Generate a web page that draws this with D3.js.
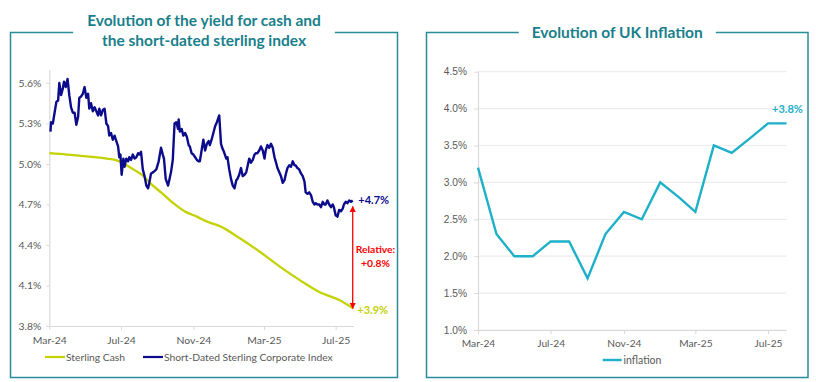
<!DOCTYPE html>
<meta charset="utf-8">
<script src="https://d3js.org/d3.v7.min.js"></script>
<style>
  body { margin: 0; background: #fff; font-family: Lato, "Open Sans", sans-serif; }
  svg { display: block; }
</style>
<div id="chart"></div>
<script>
// ---- data ----
var indexDates = ["2024-03-03","2024-03-04","2024-03-07","2024-03-10","2024-03-13","2024-03-16","2024-03-18","2024-03-21","2024-03-24","2024-03-26","2024-03-29",
  "2024-04-01","2024-04-04","2024-04-07","2024-04-10","2024-04-13","2024-04-16","2024-04-19","2024-04-21","2024-04-24","2024-04-27","2024-04-30",
  "2024-05-03","2024-05-06","2024-05-08","2024-05-11","2024-05-14","2024-05-17","2024-05-20","2024-05-23","2024-05-25","2024-05-28","2024-05-31",
  "2024-06-03","2024-06-06","2024-06-09","2024-06-11","2024-06-14","2024-06-17","2024-06-20","2024-06-23","2024-06-26","2024-06-28","2024-06-30",
  "2024-07-02","2024-07-05","2024-07-07","2024-07-10","2024-07-13","2024-07-15","2024-07-18","2024-07-21","2024-07-24","2024-07-27","2024-07-30",
  "2024-08-01","2024-08-04","2024-08-07","2024-08-10","2024-08-13","2024-08-16","2024-08-18","2024-08-21","2024-08-25","2024-08-30",
  "2024-09-03","2024-09-07","2024-09-10","2024-09-12","2024-09-15","2024-09-19","2024-09-21","2024-09-24","2024-09-27","2024-09-30",
  "2024-10-03","2024-10-06","2024-10-07","2024-10-09","2024-10-12","2024-10-15","2024-10-18","2024-10-21","2024-10-24","2024-10-26","2024-10-29",
  "2024-11-01","2024-11-04","2024-11-07","2024-11-10","2024-11-12","2024-11-15","2024-11-18","2024-11-21","2024-11-24","2024-11-27","2024-11-29",
  "2024-12-02","2024-12-05","2024-12-08","2024-12-11","2024-12-15","2024-12-18","2024-12-20","2024-12-23","2024-12-27","2024-12-29",
  "2025-01-01","2025-01-04","2025-01-07","2025-01-10","2025-01-13","2025-01-15","2025-01-18","2025-01-21","2025-01-24","2025-01-27","2025-01-30",
  "2025-02-01","2025-02-04","2025-02-07","2025-02-10","2025-02-13","2025-02-15","2025-02-18","2025-02-21","2025-02-24","2025-02-27",
  "2025-03-02","2025-03-04","2025-03-07","2025-03-10","2025-03-13","2025-03-16","2025-03-19","2025-03-21","2025-03-24","2025-03-27","2025-03-30",
  "2025-04-02","2025-04-05","2025-04-07","2025-04-10","2025-04-13","2025-04-16","2025-04-19","2025-04-22","2025-04-24","2025-04-27","2025-04-30",
  "2025-05-03","2025-05-06","2025-05-09","2025-05-11","2025-05-14","2025-05-17","2025-05-20","2025-05-23","2025-05-26","2025-05-28","2025-05-31",
  "2025-06-03","2025-06-06","2025-06-09","2025-06-12","2025-06-14","2025-06-17","2025-06-20","2025-06-23","2025-06-26","2025-06-28",
  "2025-07-01","2025-07-04","2025-07-07","2025-07-10","2025-07-13","2025-07-15","2025-07-18","2025-07-21","2025-07-24","2025-07-27","2025-07-30"];
var indexValues = [5.24,5.31,5.30,5.38,5.46,5.47,5.60,5.51,5.56,5.61,5.57,
  5.63,5.51,5.42,5.38,5.38,5.29,5.35,5.49,5.50,5.52,5.57,
  5.49,5.52,5.41,5.45,5.39,5.42,5.39,5.36,5.41,5.36,5.40,
  5.41,5.30,5.28,5.21,5.23,5.18,5.21,5.17,5.13,5.05,5.07,
  4.92,5.04,4.98,5.04,5.02,5.05,5.03,5.07,5.04,5.05,5.08,
  5.07,5.09,4.96,4.91,4.84,4.82,4.86,4.93,4.94,4.96,
  5.02,5.12,5.07,5.04,4.89,4.84,4.88,4.94,5.03,5.30,
  5.31,5.26,5.33,5.24,5.26,5.21,5.23,5.20,5.14,5.13,5.08,
  5.07,5.05,5.03,5.02,5.02,5.10,5.18,5.10,5.15,5.17,5.14,
  5.18,5.23,5.28,5.31,5.36,5.15,5.12,5.09,5.04,5.05,
  4.96,4.89,4.84,4.82,4.88,4.89,4.92,4.97,4.91,4.92,4.94,
  4.98,5.04,5.01,5.03,5.07,5.08,5.08,5.10,5.13,5.10,
  5.04,5.10,5.14,5.12,5.15,5.12,5.05,5.02,4.97,4.94,4.91,
  4.86,4.88,4.92,4.97,4.99,4.98,5.02,4.99,4.99,4.97,4.96,
  4.93,4.91,4.87,4.79,4.78,4.79,4.77,4.72,4.70,4.71,4.70,
  4.70,4.68,4.72,4.70,4.70,4.73,4.70,4.68,4.70,4.68,
  4.62,4.61,4.66,4.65,4.67,4.70,4.72,4.71,4.73,4.72,4.73];

var cashDates = ["2024-03-01","2024-03-31","2024-04-23","2024-06-07","2024-06-21","2024-07-07","2024-07-22","2024-08-08","2024-08-19",
  "2024-09-07","2024-09-28","2024-10-17","2024-11-07","2024-11-26","2024-12-16","2025-01-19","2025-02-22","2025-03-28",
  "2025-05-01","2025-06-04","2025-07-08","2025-07-31"];
var cashValues = [5.08,5.07,5.06,5.04,5.03,5.00,4.96,4.91,4.86,4.79,4.71,4.65,4.61,4.57,4.54,4.45,4.35,4.24,4.14,4.05,3.99,3.93];

var inflationMonths = ["2024-03","2024-04","2024-05","2024-06","2024-07","2024-08","2024-09","2024-10","2024-11","2024-12",
  "2025-01","2025-02","2025-03","2025-04","2025-05","2025-06","2025-07","2025-08"];
var inflationValues = [3.2,2.3,2.0,2.0,2.2,2.2,1.7,2.3,2.6,2.5,3.0,2.8,2.6,3.5,3.4,3.6,3.8,3.8];

var yieldTicks = [3.8,4.1,4.4,4.7,5.0,5.3,5.6];
var inflationTicks = [1.0,1.5,2.0,2.5,3.0,3.5,4.0,4.5];
var monthTicks = ["2024-03-01","2024-07-01","2024-11-01","2025-03-01","2025-07-01"];

var leftTitle = ["Evolution of the yield for cash and", "the short-dated sterling index"];
var rightTitle = ["Evolution of UK Inflation"];
var legendLeft = ["Sterling Cash", "Short-Dated Sterling Corporate Index"];
var legendRight = ["inflation"];

// ---- colours ----
var frameColor = "#2a8d9b", titleColor = "#1a7f8b";
var cashColor = "#c3d200", indexColor = "#0b0b8c", inflColor = "#1db0c8";
var axisColor = "#d9d9d9", gridColor = "#ececec", labelColor = "#595959";

var parse = d3.timeParse("%Y-%m-%d");
var parseM = d3.timeParse("%Y-%m");
var fmtM = d3.timeFormat("%b-%y");

var svg = d3.select("#chart").append("svg")
  .attr("width", 816).attr("height", 382);

// red arrow marker
var defs = svg.append("defs");
["start","end"].forEach(function(k) {
  defs.append("marker").attr("id", "arr-" + k)
    .attr("viewBox", "0 0 10 10").attr("refX", 9).attr("refY", 5)
    .attr("markerWidth", 5).attr("markerHeight", 5)
    .attr("orient", k == "end" ? "auto" : "auto-start-reverse")
    .append("path").attr("d", "M0,0L10,5L0,10z").attr("fill", "#ff0000");
});

function framed(left, right, top, bottom, lines, size, baseline1, gap) {
  var cx = (left + right) / 2;
  var t = svg.append("g");
  lines.forEach(function(s, i) {
    t.append("text").attr("x", cx).attr("y", baseline1 + i * 20)
      .attr("text-anchor", "middle")
      .style("font-family", "Lato, sans-serif").style("font-weight", "bold")
      .style("font-size", size + "px").attr("fill", titleColor).text(s);
  });
  var bb = t.node().getBBox();
  var g0 = bb.x - gap, g1 = bb.x + bb.width + gap;
  svg.append("path")
    .attr("d", "M" + g0 + "," + top + "H" + left + "V" + bottom + "H" + right + "V" + top + "H" + g1)
    .attr("fill", "none").attr("stroke", frameColor).attr("stroke-width", 1.5);
}

// ================= LEFT CHART =================
framed(10.5, 397.5, 32.5, 377.5, leftTitle, 15.5, 25.5, 14);

var x1 = d3.scaleTime().domain([parse("2024-03-01"), parse("2025-07-31")]).range([49.3, 353.3]);
var y1 = d3.scaleLinear().domain([3.8, 5.7]).range([326, 69.5]);

var gl = svg.append("g");
var yAx = gl.append("g").attr("transform", "translate(49.3,0)")
  .call(d3.axisLeft(y1).tickValues(yieldTicks).tickSize(3).tickSizeOuter(0).tickPadding(5)
    .tickFormat(function(d) { return d.toFixed(1) + "%"; }));
var xAx = gl.append("g").attr("transform", "translate(0,326)")
  .call(d3.axisBottom(x1).tickValues(monthTicks.map(parse)).tickSize(4).tickSizeOuter(0).tickPadding(7)
    .tickFormat(fmtM));
[yAx, xAx].forEach(function(a) {
  a.select(".domain").attr("stroke", axisColor).attr("stroke-width", 1.2);
  a.selectAll(".tick line").attr("stroke", axisColor);
  a.selectAll(".tick text").attr("fill", labelColor)
    .style("font-family", "Lato, sans-serif").style("font-size", "10.4px");
});

var cashData = cashDates.map(function(d, i) { return [parse(d), cashValues[i]]; });
var indexData = indexDates.map(function(d, i) { return [parse(d), indexValues[i]]; });
var line1 = d3.line().x(function(d) { return x1(d[0]); }).y(function(d) { return y1(d[1]); });

gl.append("path").datum(cashData).attr("d", line1.curve(d3.curveMonotoneX))
  .attr("fill", "none").attr("stroke", cashColor).attr("stroke-width", 2.3);
gl.append("path").datum(indexData).attr("d", line1.curve(d3.curveLinear))
  .attr("fill", "none").attr("stroke", indexColor).attr("stroke-width", 2.4)
  .attr("stroke-linejoin", "round");

var lastIdx = indexData[indexData.length - 1], lastCash = cashData[cashData.length - 1];
var ax = x1(lastIdx[0]);
gl.append("line").attr("x1", ax).attr("x2", ax)
  .attr("y1", y1(lastIdx[1]) + 6).attr("y2", y1(lastCash[1]))
  .attr("stroke", "#ff0000").attr("stroke-width", 1.3)
  .attr("marker-start", "url(#arr-start)").attr("marker-end", "url(#arr-end)");

function endLabel(g, x, y, txt, col) {
  g.append("text").attr("x", x).attr("y", y).attr("dy", "0.35em")
    .style("font-family", "Lato, sans-serif").style("font-weight", "bold").style("font-size", "11px")
    .attr("fill", col).text(txt);
}
endLabel(gl, x1(lastCash[0]) + 5, y1(lastIdx[1]), "+" + lastIdx[1].toFixed(1) + "%", indexColor);
endLabel(gl, x1(lastCash[0]) + 4, y1(lastCash[1]) + 2, "+" + lastCash[1].toFixed(1) + "%", cashColor);

var rel = (lastIdx[1] - lastCash[1]);
var midY = (y1(lastIdx[1]) + y1(lastCash[1])) / 2;
gl.append("text").attr("x", 375.5).attr("y", midY - 1).attr("text-anchor", "middle")
  .style("font-family", "Lato, sans-serif").style("font-weight", "bold").style("font-size", "10.3px")
  .attr("fill", "#ff0000").text("Relative:");
gl.append("text").attr("x", 375.5).attr("y", midY + 13).attr("text-anchor", "middle")
  .style("font-family", "Lato, sans-serif").style("font-weight", "bold").style("font-size", "10.3px")
  .attr("fill", "#ff0000").text("+" + rel.toFixed(1) + "%");

// legend
var lg = gl.append("g").style("font-family", "Lato, sans-serif").style("font-size", "10.3px");
[[45, cashColor, legendLeft[0]], [143, indexColor, legendLeft[1]]].forEach(function(e) {
  lg.append("line").attr("x1", e[0]).attr("x2", e[0] + 20).attr("y1", 357).attr("y2", 357)
    .attr("stroke", e[1]).attr("stroke-width", 2.2);
  lg.append("text").attr("x", e[0] + 21).attr("y", 357).attr("dy", "0.35em")
    .attr("fill", labelColor).text(e[2]);
});

// ================= RIGHT CHART =================
framed(426.5, 808, 32.5, 377.5, rightTitle, 15.5, 38, 13);

var x2 = d3.scaleTime().domain([parseM("2024-03"), parseM("2025-08")]).range([478, 786.5]);
var y2 = d3.scaleLinear().domain([1.0, 4.5]).range([330, 71.7]);

var gr = svg.append("g");
gr.append("g").selectAll("line").data(inflationTicks).enter().append("line")
  .attr("x1", 478).attr("x2", 786.5)
  .attr("y1", function(d) { return y2(d); }).attr("y2", function(d) { return y2(d); })
  .attr("stroke", gridColor).attr("stroke-width", 1.2);

var yAx2 = gr.append("g").attr("transform", "translate(478,0)")
  .call(d3.axisLeft(y2).tickValues(inflationTicks).tickSize(4).tickSizeOuter(0).tickPadding(7)
    .tickFormat(function(d) { return d.toFixed(1) + "%"; }));
var xAx2 = gr.append("g").attr("transform", "translate(0,330)")
  .call(d3.axisBottom(x2).tickValues(monthTicks.map(parse)).tickSize(4).tickSizeOuter(0).tickPadding(6)
    .tickFormat(fmtM));
[yAx2, xAx2].forEach(function(a) {
  a.select(".domain").attr("stroke", axisColor).attr("stroke-width", 1.2);
  a.selectAll(".tick line").attr("stroke", axisColor);
  a.selectAll(".tick text").attr("fill", labelColor).style("font-size", "10.2px");
});
yAx2.selectAll(".tick text").style("font-family", "'Liberation Sans', Arial, sans-serif");
xAx2.selectAll(".tick text").style("font-family", "Lato, sans-serif");

var inflData = inflationMonths.map(function(m, i) { return [parseM(m), inflationValues[i]]; });
var line2 = d3.line().x(function(d) { return x2(d[0]); }).y(function(d) { return y2(d[1]); });
gr.append("path").datum(inflData).attr("d", line2)
  .attr("fill", "none").attr("stroke", inflColor).attr("stroke-width", 2.4);

var lastInf = inflData[inflData.length - 1];
gr.append("text").attr("x", x2(lastInf[0]) + 1).attr("y", y2(lastInf[1]) - 10)
  .attr("text-anchor", "middle")
  .style("font-family", "Lato, sans-serif").style("font-weight", "bold").style("font-size", "11px")
  .attr("fill", inflColor).text("+" + lastInf[1].toFixed(1) + "%");

gr.append("line").attr("x1", 602.7).attr("x2", 621.7).attr("y1", 360).attr("y2", 360)
  .attr("stroke", inflColor).attr("stroke-width", 2.4);
gr.append("text").attr("x", 623.5).attr("y", 360).attr("dy", "0.35em")
  .style("font-family", "Lato, sans-serif").style("font-size", "10.5px")
  .attr("fill", labelColor).text(legendRight[0]);
</script>
